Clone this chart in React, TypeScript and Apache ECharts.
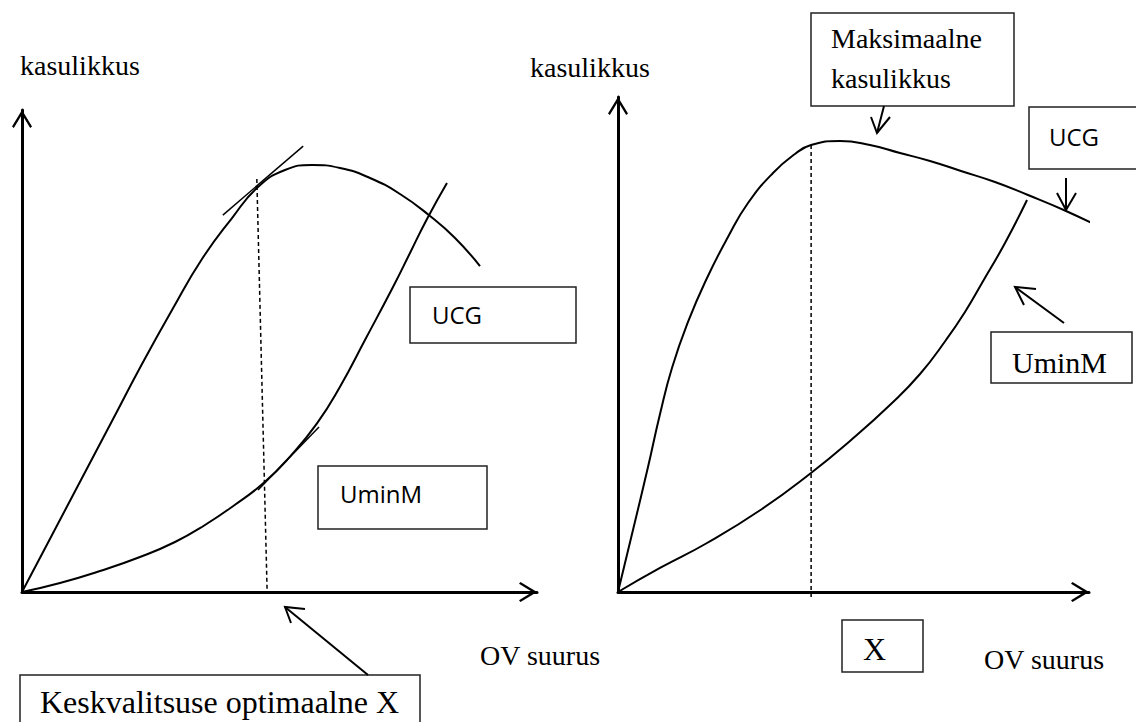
import React, { useEffect, useRef } from 'react';
import * as echarts from 'echarts';

// Left panel (units: 0..100 along each axis)
const leftUCG = [[0, 0], [5.83, 11.83], [11.65, 23.65], [17.48, 35.48], [23.3, 47.3], [29.13, 58.51], [34.95, 69.09], [40.78, 77.59], [45.83, 84.02], [51.07, 87.55], [56.31, 88.59], [61.75, 87.97], [67.57, 85.89], [73.4, 82.57], [79.22, 78.01], [84.08, 73.44], [88.93, 67.63]];
const leftUminM = [[0, 0], [7.38, 1.87], [15.15, 4.36], [22.91, 7.26], [29.71, 10.37], [35.53, 13.9], [41.36, 18.1], [47.18, 22.85], [52.04, 28.1], [57.28, 35.0], [61.75, 42.6], [66.6, 52.28], [72.04, 63.28], [75.34, 70.33], [78.64, 77.39], [82.52, 84.85]];
const leftTangentTop = [[39.0, 78.2], [54.6, 92.5]];
const leftTangentLow = [[45.83, 21.16], [57.67, 34.23]];
const leftOptimum = [[45.6, 85.7], [47.6, 0]];

// Right panel
const rightUCG = [[0, 0], [3.18, 12.53], [6.37, 25.25], [8.92, 35.96], [11.46, 45.25], [14.86, 54.55], [18.9, 63.43], [23.35, 71.72], [27.6, 78.59], [32.91, 84.65], [37.58, 88.48], [40.98, 90.3], [47.13, 91.11], [53.5, 90.3], [59.87, 88.69], [66.24, 87.07], [72.82, 85.05], [80.04, 82.83], [87.05, 80.2], [95.12, 76.97], [104.46, 72.73]];
const rightUminM = [[0, 0], [8.92, 4.85], [18.9, 9.9], [30.57, 16.77], [40.98, 24.04], [49.26, 30.51], [57.96, 37.98], [64.12, 44.04], [69.64, 50.91], [73.67, 56.57], [77.28, 62.42], [82.17, 70.51], [86.84, 79.19]];
const rightMax = [[41.0, 90.3], [41.0, -1.0]];

const axisTitle = 'kasulikkus';
const xTitle = 'OV suurus';

const SERIF = '"Liberation Serif", "Times New Roman", serif';
const SANS = '"Open Sans", "Noto Sans", sans-serif';
const CHEVRON = 'path://M10,0 L20,16.5 L18.2,18 L10,4.6 L1.8,18 L0,16.5 Z';

function makeAxis(gridIndex: number) {
  return {
    gridIndex,
    type: 'value',
    min: 0,
    max: 100,
    axisLine: {
      show: true,
      onZero: false,
      lineStyle: { color: '#000', width: 3 },
      symbol: ['none', CHEVRON],
      symbolSize: [20, 18],
      symbolOffset: [0, -9],
    },
    axisTick: { show: false },
    axisLabel: { show: false },
    splitLine: { show: false },
  };
}

function curve(data: number[][], xi: number, width = 2, smooth: number | boolean = 0.5, dashed = false) {
  return {
    type: 'line',
    xAxisIndex: xi,
    yAxisIndex: xi,
    data,
    smooth,
    symbol: 'none',
    clip: false,
    silent: true,
    lineStyle: { color: '#000', width, type: dashed ? [4, 3] : 'solid' },
  };
}

function txt(text: string, x: number, y: number, font: string) {
  return { type: 'text', x, y, silent: true, style: { text, font, fill: '#000', verticalAlign: 'middle', align: 'left' } };
}
function box(x: number, y: number, w: number, h: number) {
  return { type: 'rect', silent: true, shape: { x, y, width: w, height: h }, style: { fill: '#fff', stroke: '#222', lineWidth: 1.5 } };
}
function ln(x1: number, y1: number, x2: number, y2: number) {
  return { type: 'line', silent: true, shape: { x1, y1, x2, y2 }, style: { stroke: '#000', lineWidth: 2 } };
}
function head(pts: number[][]) {
  return { type: 'polyline', silent: true, shape: { points: pts }, style: { stroke: '#000', lineWidth: 2, fill: null } };
}

export default function App() {
  const ref = useRef<HTMLDivElement>(null);
  useEffect(() => {
    if (!ref.current) return;
    const chart = echarts.init(ref.current, undefined, { renderer: 'svg' });
    chart.setOption({
      animation: false,
      backgroundColor: '#fff',
      grid: [
        { left: 22, top: 110, width: 515, height: 482 },
        { left: 618, top: 97, width: 471, height: 495 },
      ],
      xAxis: [makeAxis(0), makeAxis(1)],
      yAxis: [makeAxis(0), makeAxis(1)],
      series: [
        curve(leftUCG, 0),
        curve(leftUminM, 0),
        curve(leftTangentTop, 0, 1.5, false),
        curve(leftTangentLow, 0, 1.5, false),
        curve(leftOptimum, 0, 1.5, false, true),
        curve(rightUCG, 1),
        curve(rightUminM, 1),
        curve(rightMax, 1, 1.5, false, true),
      ],
      graphic: [
        // Left panel
        txt(axisTitle, 20, 65.5, `28px ${SERIF}`),
        txt(xTitle, 480, 655.5, `28px ${SERIF}`),
        box(410, 287, 166, 56),
        txt('UCG', 432, 314.7, `24px ${SANS}`),
        box(318, 466, 169, 63),
        txt('UminM', 340, 493.7, `24px ${SANS}`),
        box(20, 675, 400, 52),
        txt('Keskvalitsuse optimaalne X', 40, 702, `32px ${SERIF}`),
        ln(368, 675, 285, 607),
        head([[305, 609], [285, 607], [291, 623]]),
        // Right panel
        txt(axisTitle, 530, 67.5, `28px ${SERIF}`),
        txt(xTitle, 984, 659.5, `28px ${SERIF}`),
        box(811, 13, 203, 93),
        txt('Maksimaalne', 831, 38.5, `28px ${SERIF}`),
        txt('kasulikkus', 831, 78.5, `28px ${SERIF}`),
        ln(884, 106, 877, 133),
        head([[871, 117], [877, 133], [890, 117]]),
        box(1029, 107, 120, 62),
        txt('UCG', 1049, 136.7, `24px ${SANS}`),
        ln(1066, 178, 1066, 210),
        head([[1057, 193], [1066, 210], [1076, 193]]),
        box(991, 332, 141, 51),
        txt('UminM', 1012, 362, `30px ${SERIF}`),
        ln(1064, 323, 1015, 287),
        head([[1036, 289], [1015, 287], [1024, 305]]),
        box(842, 620, 81, 52),
        txt('X', 863, 649, `32px ${SERIF}`),
      ],
    });
    return () => chart.dispose();
  }, []);
  return <div ref={ref} style={{ position: 'absolute', left: 0, top: 0, width: 1136, height: 722, background: '#fff' }} />;
}
